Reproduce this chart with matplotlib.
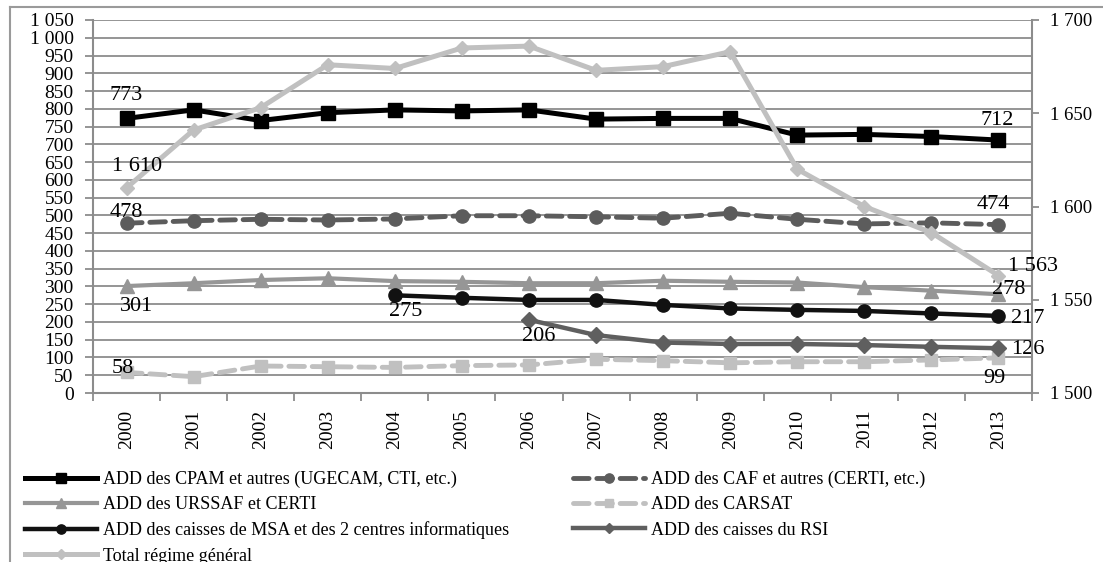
import matplotlib
matplotlib.use("Agg")
import matplotlib.pyplot as plt
from matplotlib.lines import Line2D
from matplotlib.ticker import FixedLocator, FuncFormatter

plt.rcParams['font.family'] = ['Liberation Serif', 'DejaVu Serif']

years = ["2000", "2001", "2002", "2003", "2004", "2005", "2006",
         "2007", "2008", "2009", "2010", "2011", "2012", "2013"]
cpam = [773, 797, 767, 789, 797, 794, 797, 771, 773, 773, 726, 728, 722, 712]
caf = [478, 485, 489, 487, 490, 499, 499, 496, 492, 506, 489, 476, 479, 474]
urssaf = [301, 309, 318, 323, 315, 313, 309, 309, 316, 313, 311, 298, 288, 278]
carsat = [58, 46, 76, 74, 72, 77, 79, 95, 91, 85, 88, 88, 93, 99]
msa_years = years[4:]
msa = [275, 268, 262, 262, 248, 238, 234, 231, 224, 217]
rsi_years = years[6:]
rsi = [206, 163, 142, 138, 138, 135, 130, 126]
total = [1610, 1641, 1653, 1676, 1674, 1685, 1686, 1673, 1675, 1683, 1620, 1600, 1586, 1563]

names = ["ADD des CPAM et autres (UGECAM, CTI, etc.)",
         "ADD des CAF et autres (CERTI, etc.)",
         "ADD des URSSAF et CERTI",
         "ADD des CARSAT",
         "ADD des caisses de MSA et des 2 centres informatiques",
         "ADD des caisses du RSI",
         "Total régime général"]

W, H = 1103, 562
fig = plt.figure(figsize=(W / 100, H / 100), dpi=100)
ax = fig.add_axes([93 / W, 1 - 393 / H, (1032 - 93) / W, (393 - 20) / H])
ax2 = ax.twinx()

x = list(range(len(years)))
xm = [years.index(y) for y in msa_years]
xr = [years.index(y) for y in rsi_years]

grid_c = '#8c8c8c'

l_cpam, = ax.plot(x, cpam, color='black', lw=3.6, marker='s', ms=10.5, zorder=5)
l_caf, = ax.plot(x, caf, color='#5c5c5c', lw=3.5, ls=(0, (3.2, 1.6)), marker='o', ms=9.5,
                 dash_capstyle='round', zorder=4)
l_urs, = ax.plot(x, urssaf, color='#969696', lw=3.0, marker='^', ms=10, zorder=4)
l_car, = ax.plot(x, carsat, color='#c0c0c0', lw=3.5, ls=(0, (3.2, 1.6)), marker='s', ms=9,
                 dash_capstyle='round', zorder=4)
l_msa, = ax.plot(xm, msa, color='#111111', lw=3.2, marker='o', ms=9.5, zorder=4)
l_rsi, = ax.plot(xr, rsi, color='#5f5f5f', lw=3.2, marker='D', ms=8, zorder=4)
l_tot, = ax2.plot(x, total, color='#c0c0c0', lw=3.6, marker='D', ms=7.5, zorder=4)

# axes styling
ax.set_xlim(-0.5, len(years) - 0.5)
ax.set_ylim(0, 1050)
ax2.set_ylim(1500, 1700)
ax.set_yticks(range(0, 1051, 50))
ax2.set_yticks(range(1500, 1701, 50))


def fmt(v, pos):
    s = f"{int(round(v)):,}".replace(",", " ")
    return s


ax.yaxis.set_major_formatter(FuncFormatter(fmt))
ax2.yaxis.set_major_formatter(FuncFormatter(fmt))
ax.grid(axis='y', color=grid_c, lw=1.3)
ax.set_axisbelow(True)

ax.set_xticks(x)
ax.set_xticklabels(years, rotation=90, fontsize=14)
ax.xaxis.set_minor_locator(FixedLocator([i - 0.5 for i in range(len(years) + 1)]))
ax.tick_params(axis='x', which='major', length=0, pad=12)
ax.tick_params(axis='x', which='minor', length=5.5, width=1.3, color=grid_c, direction='out')
ax.tick_params(axis='y', which='major', length=6, width=1.3, color=grid_c, direction='out',
               labelsize=14, pad=8)
ax2.tick_params(axis='y', which='major', length=5, width=1.3, color=grid_c, direction='out',
                labelsize=13.5, pad=8)

for a in (ax, ax2):
    a.spines['top'].set_visible(False)
    for s in ('left', 'right', 'bottom'):
        a.spines[s].set_color(grid_c)
        a.spines[s].set_linewidth(1.5)
ax.spines['right'].set_visible(False)
ax2.spines['left'].set_visible(False)
ax2.spines['bottom'].set_visible(False)

# data labels
lab_kw = dict(textcoords='offset pixels', ha='center', va='center', fontsize=16, color='black',
              zorder=10)
first, last = 0, len(years) - 1
ax.annotate(f"{cpam[first]}", (first, cpam[first]), xytext=(0, 23), **lab_kw)
ax.annotate(f"{cpam[last]}", (last, cpam[last]), xytext=(-1, 20), **lab_kw)
ax.annotate(f"{caf[first]}", (first, caf[first]), xytext=(0, 11), **lab_kw)
ax.annotate(f"{caf[last]}", (last, caf[last]), xytext=(-5, 20), **lab_kw)
ax.annotate(f"{urssaf[first]}", (first, urssaf[first]), xytext=(10, -20), **lab_kw)
ax.annotate(f"{urssaf[last]}", (last, urssaf[last]), xytext=(10, 5), **lab_kw)
ax.annotate(f"{carsat[first]}", (first, carsat[first]), xytext=(-4, 4), **lab_kw)
ax.annotate(f"{carsat[last]}", (last, carsat[last]), xytext=(-4, -21), **lab_kw)
ax.annotate(f"{msa[0]}", (xm[0], msa[0]), xytext=(11, -16), **lab_kw)
ax.annotate(f"{msa[-1]}", (xm[-1], msa[-1]), xytext=(29, -3), **lab_kw)
ax.annotate(f"{rsi[0]}", (xr[0], rsi[0]), xytext=(10, -17), **lab_kw)
ax.annotate(f"{rsi[-1]}", (xr[-1], rsi[-1]), xytext=(29, -1), **lab_kw)
ax2.annotate(fmt(total[first], 0), (first, total[first]), xytext=(11, 21), **lab_kw)
ax2.annotate(fmt(total[last], 0), (last, total[last]), xytext=(35, 9), **lab_kw)

# legend
handles = [l_cpam, l_urs, l_msa, l_tot, l_caf, l_car, l_rsi]
labels = [names[0], names[2], names[4], names[6], names[1], names[3], names[5]]
fig.legend(handles, labels, ncol=2, loc='upper left',
           bbox_to_anchor=(25 / W, 1 - 471 / H), frameon=False, fontsize=13,
           borderpad=0, borderaxespad=0, handlelength=4.0, handletextpad=0.33,
           labelspacing=0.45, columnspacing=3.5, markerscale=0.7)

# outer frame
fig.add_artist(Line2D([10 / W, 10 / W], [0, 1 - 7 / H], transform=fig.transFigure,
                      color='#9a9a9a', lw=1.5))
fig.add_artist(Line2D([10 / W, 1], [1 - 7 / H, 1 - 7 / H], transform=fig.transFigure,
                      color='#9a9a9a', lw=1.5))

fig.savefig("out.png", dpi=100)
